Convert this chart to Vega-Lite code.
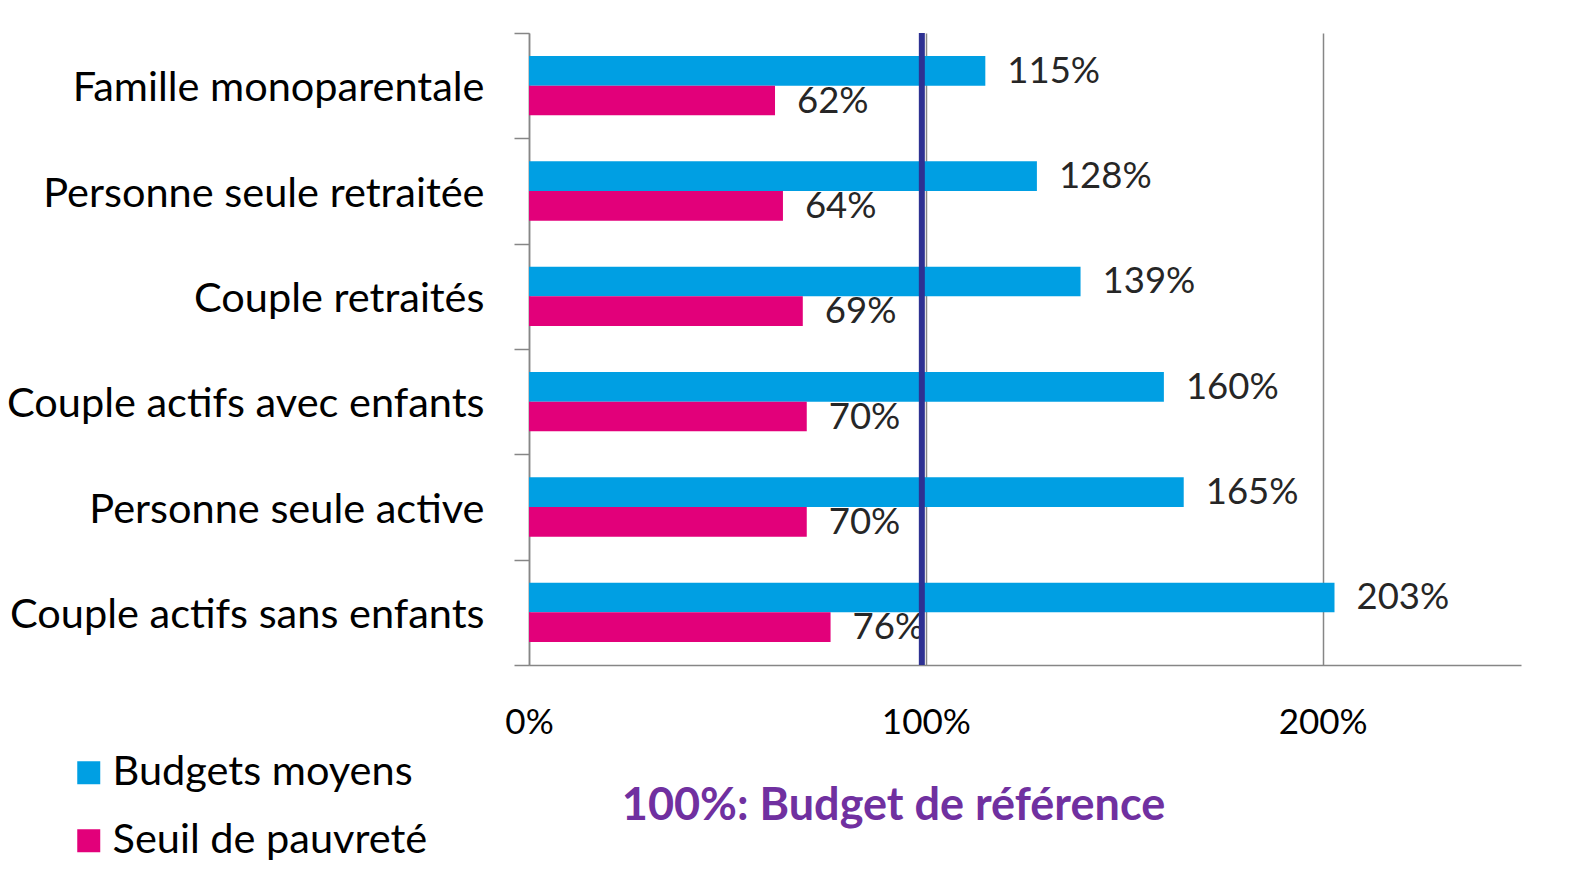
{
  "$schema": "https://vega.github.io/schema/vega-lite/v6.json",
  "width": 992,
  "height": 632,
  "autosize": {"type": "none"},
  "padding": {"left": 529, "top": 33, "right": 58, "bottom": 213},
  "background": "white",
  "config": {
    "font": "Lato",
    "view": {"stroke": null}
  },
  "data": {
    "values": [
      {"categorie": "Famille monoparentale", "serie": "Budgets moyens", "valeur": 115, "etiquette": "115%"},
      {"categorie": "Famille monoparentale", "serie": "Seuil de pauvreté", "valeur": 62, "etiquette": "62%"},
      {"categorie": "Personne seule retraitée", "serie": "Budgets moyens", "valeur": 128, "etiquette": "128%"},
      {"categorie": "Personne seule retraitée", "serie": "Seuil de pauvreté", "valeur": 64, "etiquette": "64%"},
      {"categorie": "Couple retraités", "serie": "Budgets moyens", "valeur": 139, "etiquette": "139%"},
      {"categorie": "Couple retraités", "serie": "Seuil de pauvreté", "valeur": 69, "etiquette": "69%"},
      {"categorie": "Couple actifs avec enfants", "serie": "Budgets moyens", "valeur": 160, "etiquette": "160%"},
      {"categorie": "Couple actifs avec enfants", "serie": "Seuil de pauvreté", "valeur": 70, "etiquette": "70%"},
      {"categorie": "Personne seule active", "serie": "Budgets moyens", "valeur": 165, "etiquette": "165%"},
      {"categorie": "Personne seule active", "serie": "Seuil de pauvreté", "valeur": 70, "etiquette": "70%"},
      {"categorie": "Couple actifs sans enfants", "serie": "Budgets moyens", "valeur": 203, "etiquette": "203%"},
      {"categorie": "Couple actifs sans enfants", "serie": "Seuil de pauvreté", "valeur": 76, "etiquette": "76%"}
    ]
  },
  "encoding": {
    "y": {
      "field": "categorie",
      "type": "nominal",
      "sort": null,
      "scale": {"paddingInner": 0, "paddingOuter": 0},
      "axis": {
        "title": null,
        "tickBand": "extent",
        "domainColor": "#868686",
        "domainWidth": 1.5,
        "tickColor": "#868686",
        "tickWidth": 1.5,
        "tickSize": 15,
        "labelPadding": 30,
        "labelOffset": 3,
        "labelFontSize": 41.5,
        "labelColor": "#000000",
        "labelFont": "Lato",
        "labelLimit": 600
      }
    },
    "x": {
      "field": "valeur",
      "type": "quantitative",
      "scale": {"domain": [0, 250], "nice": false},
      "axis": {
        "title": "100%: Budget de référence",
        "titleX": 364,
        "titleY": 140,
        "titleAlign": "center",
        "titleBaseline": "middle",
        "titleFontSize": 45,
        "titleFontWeight": "bold",
        "titleColor": "#7030A0",
        "titleFont": "Lato",
        "values": [0, 100, 200],
        "labelExpr": "datum.value + '%'",
        "labelFlush": false,
        "grid": true,
        "gridColor": "#868686",
        "gridWidth": 1.5,
        "domainColor": "#868686",
        "domainWidth": 1.5,
        "ticks": false,
        "labelPadding": 40,
        "labelFontSize": 35,
        "labelColor": "#000000",
        "labelFont": "Lato"
      }
    },
    "yOffset": {
      "field": "serie",
      "type": "nominal",
      "scale": {"domain": ["Budgets moyens", "Seuil de pauvreté"], "paddingInner": 0, "paddingOuter": 0.773}
    }
  },
  "layer": [
    {
      "mark": {"type": "bar"},
      "encoding": {
        "color": {
          "field": "serie",
          "type": "nominal",
          "scale": {"domain": ["Budgets moyens", "Seuil de pauvreté"], "range": ["#009FE3", "#E2007A"]},
          "legend": {
            "title": null,
            "orient": "none",
            "legendX": -461,
            "legendY": 719,
            "symbolType": "square",
            "symbolSize": 529,
            "symbolStrokeWidth": 0,
            "labelFontSize": 41.5,
            "labelFont": "Lato",
            "labelColor": "#000000",
            "labelOffset": 3,
            "rowPadding": 25,
            "labelLimit": 500
          }
        }
      }
    },
    {
      "mark": {"type": "text", "align": "left", "baseline": "middle", "dx": 22, "dy": 1, "fontSize": 36.5, "font": "Lato", "color": "#262626"},
      "encoding": {
        "text": {"field": "etiquette", "type": "nominal"}
      }
    },
    {
      "data": {"values": [{"reference": 99}]},
      "mark": {"type": "rule", "color": "#2E3192", "strokeWidth": 6},
      "encoding": {
        "x": {"field": "reference", "type": "quantitative"},
        "y": null,
        "yOffset": null
      }
    }
  ]
}
